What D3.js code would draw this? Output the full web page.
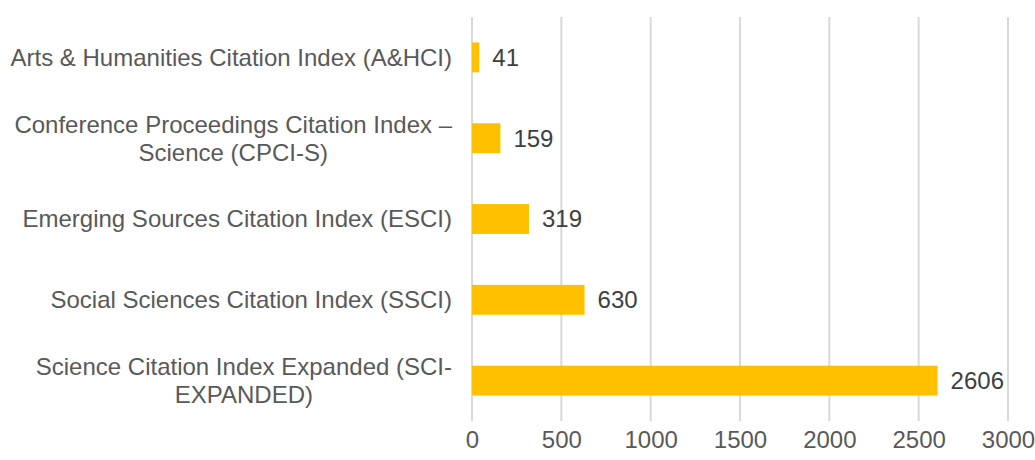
<!DOCTYPE html>
<meta charset="utf-8">
<style>
body { margin: 0; background: #fff; font-family: "Liberation Sans", Arial, sans-serif; }
.grid line { stroke: #d9d9d9; stroke-width: 2; }
.cat text { fill: #595959; font-size: 24px; }
.tick text { fill: #595959; font-size: 24px; }
.val { fill: #404040; font-size: 24px; }
</style>
<body>
<svg width="1035" height="460"></svg>
<script src="https://d3js.org/d3.v7.min.js"></script>
<script>
var categories = [
  ["Arts & Humanities Citation Index (A&HCI)"],
  ["Conference Proceedings Citation Index \u2013", "Science (CPCI-S)"],
  ["Emerging Sources Citation Index (ESCI)"],
  ["Social Sciences Citation Index (SSCI)"],
  ["Science Citation Index Expanded (SCI-", "EXPANDED)"]
];
var values = [41, 159, 319, 630, 2606];
var xTicks = [0, 500, 1000, 1500, 2000, 2500, 3000];

var svg = d3.select("svg"),
    margin = {top: 17, right: 27, bottom: 39, left: 472},
    width = +svg.attr("width") - margin.left - margin.right,
    height = +svg.attr("height") - margin.top - margin.bottom;

var x = d3.scaleLinear().domain([0, 3000]).range([0, width]);
var y = d3.scaleBand()
    .domain(d3.range(values.length))
    .range([0, height])
    .paddingInner(0.63)
    .paddingOuter(0.315);

var g = svg.append("g")
    .attr("transform", "translate(" + margin.left + "," + margin.top + ")");

// gridlines
g.append("g").attr("class", "grid")
  .selectAll("line").data(xTicks).enter().append("line")
    .attr("x1", function (d) { return x(d); })
    .attr("x2", function (d) { return x(d); })
    .attr("y1", 0).attr("y2", height);

// tick labels
g.append("g")
    .attr("transform", "translate(0," + height + ")")
    .call(d3.axisBottom(x).tickValues(xTicks).tickSize(0).tickPadding(10).tickFormat(d3.format("d")))
    .call(function (a) { a.select(".domain").remove(); })
    .selectAll("text").attr("font-family", null).attr("font-size", null);

// bars
g.selectAll("rect.bar").data(values).enter().append("rect")
    .attr("class", "bar")
    .attr("x", 0)
    .attr("y", function (d, i) { return y(i); })
    .attr("width", function (d) { return x(d); })
    .attr("height", y.bandwidth())
    .attr("fill", "#ffc000");

// value labels
g.selectAll("text.val").data(values).enter().append("text")
    .attr("class", "val")
    .attr("x", function (d) { return x(d) + 13; })
    .attr("y", function (d, i) { return y(i) + y.bandwidth() / 2; })
    .attr("dy", "0.35em")
    .text(function (d) { return d; });

// category labels: block right-aligned, lines centred within block
var lineH = 28;
var cat = g.append("g").attr("class", "cat");
categories.forEach(function (lines, i) {
  var t = cat.append("text");
  var cy = y(i) + y.bandwidth() / 2;
  lines.forEach(function (s, j) {
    t.append("tspan").text(s)
      .attr("y", cy + (j - (lines.length - 1) / 2) * lineH)
      .attr("dy", "0.35em");
  });
  var maxW = d3.max(t.selectAll("tspan").nodes(), function (n) { return n.getComputedTextLength(); });
  t.selectAll("tspan").attr("x", -20 - maxW / 2).attr("text-anchor", "middle");
});
</script>
</body>
